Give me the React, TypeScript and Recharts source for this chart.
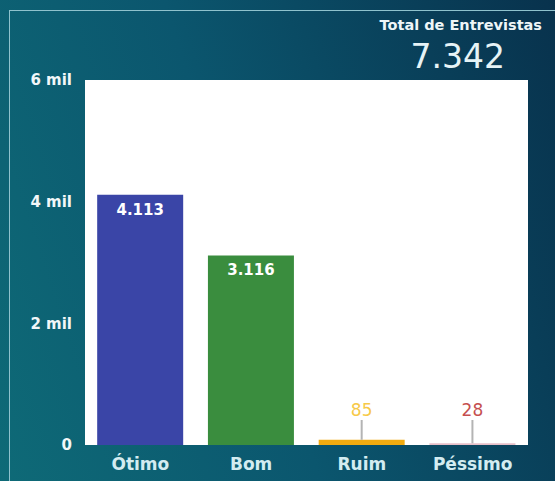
import { BarChart, Bar, XAxis, YAxis, CartesianGrid, Cell, LabelList } from "recharts";

const categories = ["Ótimo", "Bom", "Ruim", "Péssimo"];
const counts = [4113, 3116, 85, 28];
const barColors = ["#3a45a7", "#3a8d3e", "#f2ab10", "#e6bec7"];
const labelColors = ["#ffffff", "#ffffff", "#f7c948", "#c64f4f"];
const yTicks = [0, 2000, 4000, 6000];
const totalLabel = "Total de Entrevistas";

const data = categories.map((name, i) => ({ name, value: counts[i] }));
const total = counts.reduce((a, b) => a + b, 0);

// thousands with a dot, like pt-BR
const fmt = (n: number) => String(n).replace(/\B(?=(\d{3})+(?!\d))/g, ".");

const FONT = "DejaVu Sans";

function BarValue(props: any) {
  const { x, y, width, height, value } = props;
  const i = counts.indexOf(value);
  const cx = x + width / 2;
  const base = y + height;
  if (value > 1000) {
    return (
      <text
        x={cx}
        y={y + 15}
        textAnchor="middle"
        dominantBaseline="central"
        fill={labelColors[i]}
        fontSize={15}
        fontWeight={700}
        fontFamily={FONT}
      >
        {fmt(value)}
      </text>
    );
  }
  return (
    <g>
      <line x1={cx} x2={cx} y1={base - 25} y2={y} stroke="#b4b4b4" strokeWidth={2} />
      <text
        x={cx}
        y={base - 35}
        textAnchor="middle"
        dominantBaseline="central"
        fill={labelColors[i]}
        fontSize={17}
        fontFamily={FONT}
      >
        {fmt(value)}
      </text>
    </g>
  );
}

export default function App() {
  return (
    <div
      style={{
        position: "absolute",
        left: 0,
        top: 0,
        width: 555,
        height: 481,
        overflow: "hidden",
        background: "linear-gradient(72deg, #0e6a77 0%, #0b566e 45%, #08324d 100%)",
        fontFamily: FONT,
      }}
    >
      <div
        style={{
          position: "absolute",
          left: 9,
          top: 10,
          right: -5,
          bottom: -5,
          borderTop: "1.5px solid #8fc2cd",
          borderLeft: "1.5px solid #8fc2cd",
        }}
      />
      <div
        style={{
          position: "absolute",
          right: 13,
          top: 18,
          fontSize: 14.5,
          lineHeight: 1,
          fontWeight: 700,
          color: "#eef6f8",
          whiteSpace: "nowrap",
        }}
      >
        {totalLabel}
      </div>
      <div
        style={{
          position: "absolute",
          right: 50,
          top: 40,
          fontSize: 33,
          lineHeight: 1,
          color: "#e6f3f6",
        }}
      >
        {fmt(total)}
      </div>
      <div style={{ position: "absolute", left: 0, top: 0 }}>
        <BarChart
          width={555}
          height={481}
          data={data}
          margin={{ top: 80, right: 27, bottom: 0, left: 0 }}
          barCategoryGap="11%"
        >
          <CartesianGrid horizontal={false} vertical={false} fill="#ffffff" />
          <XAxis
            dataKey="name"
            height={36}
            axisLine={false}
            tickLine={false}
            tickMargin={7}
            tick={{ fill: "#d3ecf1", fontSize: 17, fontWeight: 700, fontFamily: FONT }}
          />
          <YAxis
            width={85}
            domain={[0, 6000]}
            ticks={yTicks}
            interval={0}
            axisLine={false}
            tickLine={false}
            tickMargin={7}
            tickFormatter={(v: number) => (v === 0 ? "0" : `${v / 1000} mil`)}
            tick={{ fill: "#f2f7f9", fontSize: 15, fontWeight: 700, fontFamily: FONT }}
          />
          <Bar dataKey="value" isAnimationActive={false}>
            {data.map((d, i) => (
              <Cell key={d.name} fill={barColors[i]} />
            ))}
            <LabelList dataKey="value" content={<BarValue />} />
          </Bar>
        </BarChart>
      </div>
    </div>
  );
}
